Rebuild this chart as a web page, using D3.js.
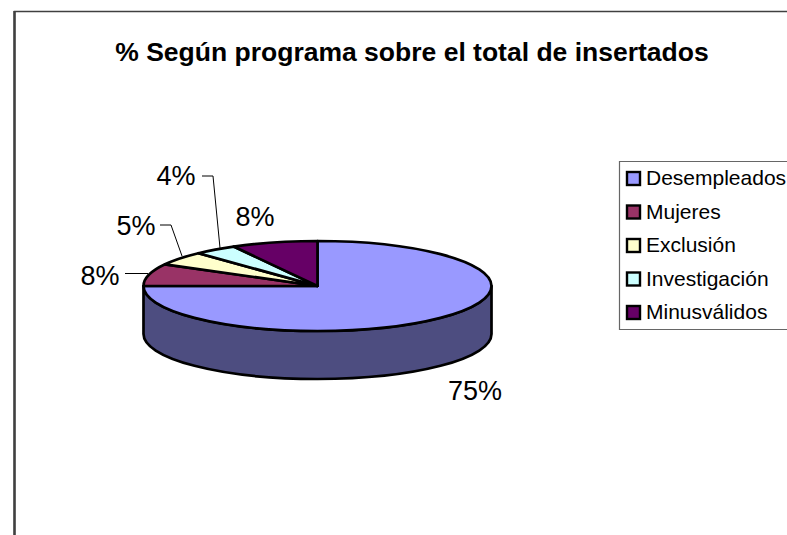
<!DOCTYPE html>
<html><head><meta charset="utf-8">
<script src="https://cdn.jsdelivr.net/npm/d3@7"></script>
<style>html,body{margin:0;padding:0;background:#fff;overflow:hidden}svg{display:block}text{font-family:"Liberation Sans",Arial,sans-serif;fill:#000}</style>
</head><body><svg id="c" width="787" height="535"></svg>
<script>
const titleText = "% Según programa sobre el total de insertados";
const categories = ["Desempleados","Mujeres","Exclusión","Investigación","Minusválidos"];
const values = [75,8,5,4,8];
const colors = ["#9999ff","#993366","#ffffcc","#ccffff","#660066"];
const sideColor = "#4d4d80";
const labelPos = [[475,391],[100,276],[136,226],[176,176],[255,217]];
const leaderLines = [null,[[125,273.5],[148,273.5]],[[160,225],[171,225],[182,256]],[[202,176],[213,176],[220,248]],null];

const svg = d3.select("#c");
const cx=317.5, cy=286, rx=174, ry=45, depth=48;

svg.append("path").attr("d","M14.5,535V11.5H787").attr("fill","none").attr("stroke","#404040").attr("stroke-width",1.5);
svg.append("line").attr("x1",14.5).attr("x2",14.5).attr("y1",11).attr("y2",535).attr("stroke","#404040").attr("stroke-width",2.5);

svg.append("text").attr("x",412).attr("y",61).attr("text-anchor","middle").attr("font-size",26.5).attr("font-weight","bold").text(titleText);

svg.append("path")
  .attr("d",`M${cx-rx},${cy}A${rx},${ry} 0 0 0 ${cx+rx},${cy}V${cy+depth}A${rx},${ry} 0 0 1 ${cx-rx},${cy+depth}Z`)
  .attr("fill",sideColor).attr("stroke","#000").attr("stroke-width",2.7).attr("stroke-linejoin","round");

const pie=d3.pie().sort(null)(values);
const arc=d3.arc().innerRadius(0).outerRadius(rx);
svg.append("g").attr("transform",`translate(${cx},${cy}) scale(1,${ry/rx})`)
  .selectAll("path").data(pie).join("path")
  .attr("d",arc).attr("fill",(d,i)=>colors[i])
  .attr("stroke","#000").attr("stroke-width",2.7).attr("stroke-linejoin","round")
  .attr("vector-effect","non-scaling-stroke");

leaderLines.forEach(l=>{ if(l) svg.append("path").attr("d",d3.line()(l)).attr("fill","none").attr("stroke","#000").attr("stroke-width",1);});

svg.selectAll("text.lab").data(values).join("text").attr("class","lab")
  .attr("x",(d,i)=>labelPos[i][0]).attr("y",(d,i)=>labelPos[i][1]+9)
  .attr("text-anchor","middle").attr("font-size",27).text(d=>d+"%");

svg.append("path").attr("d","M787,161.5H619.5V329.5H787").attr("fill","#fff").attr("stroke","#666").attr("stroke-width",1.2);
const ly=d3.scalePoint().domain(categories).range([178,312]);
const lg=svg.selectAll("g.l").data(categories).join("g").attr("class","l").attr("transform",d=>`translate(0,${ly(d)})`);
lg.append("rect").attr("x",627).attr("y",-6).attr("width",13).attr("height",13).attr("fill",(d,i)=>colors[i]).attr("stroke","#000").attr("stroke-width",2.4);
lg.append("text").attr("x",646).attr("y",7).attr("font-size",21).text(d=>d);
</script></body></html>
